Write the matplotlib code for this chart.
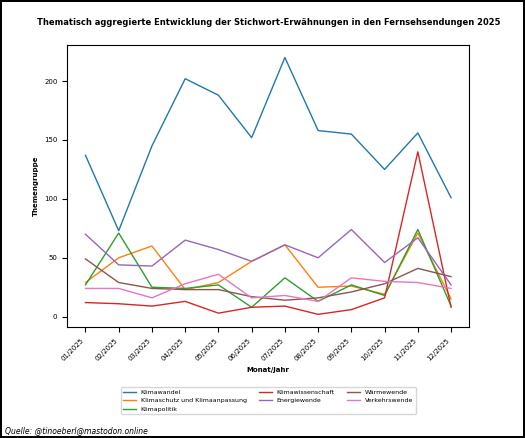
import matplotlib.pyplot as plt

months = ['01/2025', '02/2025', '03/2025', '04/2025', '05/2025', '06/2025',
          '07/2025', '08/2025', '09/2025', '10/2025', '11/2025', '12/2025']

klimawandel = [137, 73, 145, 202, 188, 152, 220, 158, 155, 125, 156, 101]
klimaschutz = [29, 50, 60, 23, 29, 47, 61, 25, 26, 19, 71, 15]
klimapolitik = [27, 71, 25, 24, 27, 8, 33, 13, 27, 18, 74, 9]
klimawissenschaft = [12, 11, 9, 13, 3, 8, 9, 2, 6, 16, 140, 8]
energiewende = [70, 44, 43, 65, 57, 47, 61, 50, 74, 46, 67, 27]
waermewende = [49, 29, 24, 23, 23, 17, 14, 16, 21, 28, 41, 34]
verkehrswende = [24, 24, 16, 28, 36, 16, 18, 13, 33, 30, 29, 24]

series = [
    ('Klimawandel', klimawandel),
    ('Klimaschutz und Klimaanpassung', klimaschutz),
    ('Klimapolitik', klimapolitik),
    ('Klimawissenschaft', klimawissenschaft),
    ('Energiewende', energiewende),
    ('Wärmewende', waermewende),
    ('Verkehrswende', verkehrswende),
]

fig = plt.figure(figsize=(5.25, 4.38), dpi=100, linewidth=1.5, edgecolor='black')
ax = fig.add_axes([0.128, 0.253, 0.766, 0.645])

for name, vals in series:
    ax.plot(months, vals, label=name, linewidth=1)

ax.set_title('Thematisch aggregierte Entwicklung der Stichwort-Erwähnungen in den Fernsehsendungen 2025',
             fontsize=6, fontweight='bold', pad=14)
ax.set_xlabel('Monat/Jahr', fontsize=5, fontweight='bold')
ax.set_ylabel('Themengruppe', fontsize=5, fontweight='bold')
ax.tick_params(labelsize=5)
plt.setp(ax.get_xticklabels(), rotation=45, ha='right')

ax.legend(loc='upper center', bbox_to_anchor=(0.5, -0.2), ncol=3, fontsize=4.5,
          frameon=True)
fig.text(0.01, 0.01, 'Quelle: @tinoeberl@mastodon.online', fontsize=5.5, style='italic')

fig.savefig('out.png', dpi=100)
